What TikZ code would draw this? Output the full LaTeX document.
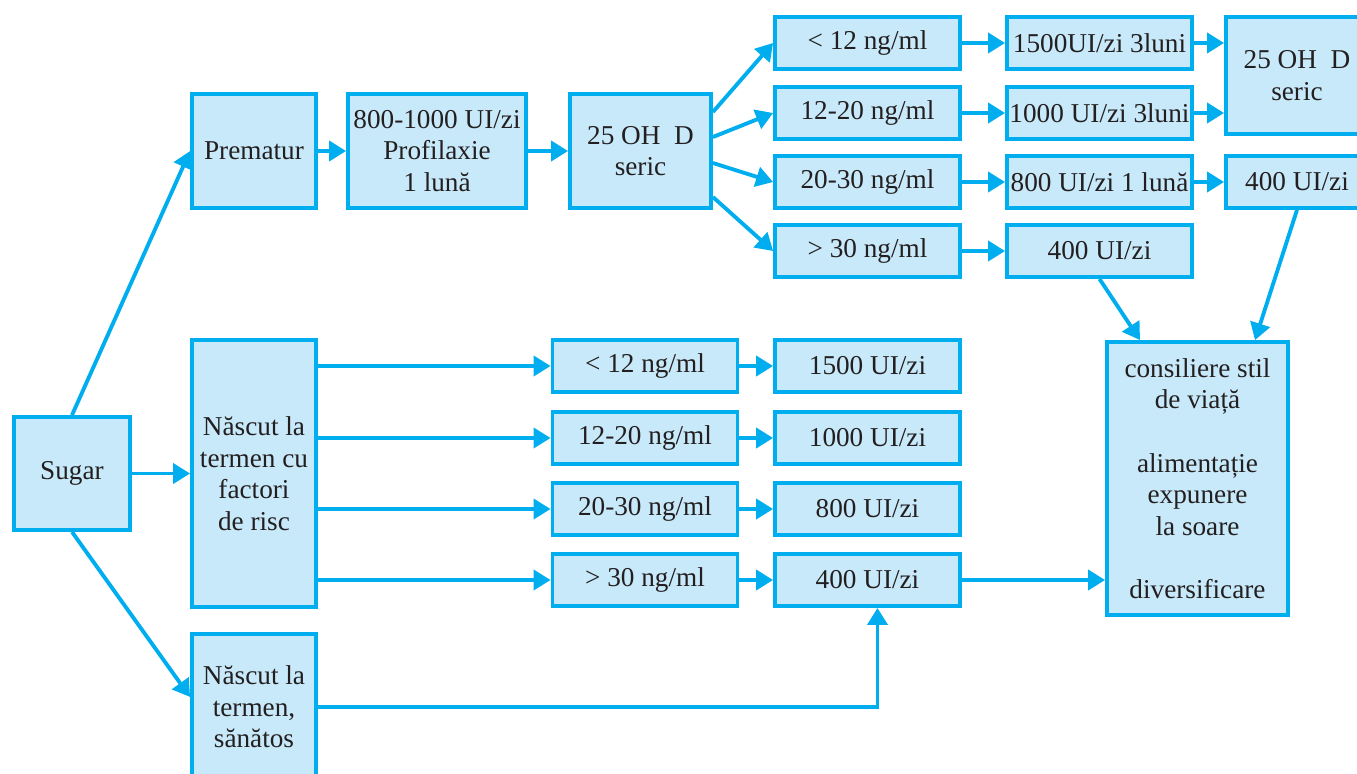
\documentclass[tikz,border=0pt]{standalone}
\usepackage{fontspec}
\setmainfont{Liberation Serif}
\usetikzlibrary{arrows.meta}
\definecolor{vcyan}{HTML}{00AEEF}
\definecolor{vfill}{HTML}{C8E9F9}
\definecolor{vtext}{HTML}{231F20}
\tikzset{
    box/.style={draw=vcyan, fill=vfill, line width=2.2pt, align=center, inner sep=1pt,
        text=vtext, font=\fontsize{15.5}{18}\selectfont},
    lvl/.style={box, minimum width=3.7cm, minimum height=1.04cm},
    arr/.style={vcyan, line width=2.2pt, -{Triangle[length=0.34cm,width=0.4cm]}},
}
\begin{document}
\begin{tikzpicture}[x=0.02cm,y=-0.02cm]
    \useasboundingbox (0,0) rectangle (1357,774);
    % Left column
    \node[box, minimum width=2.32cm, minimum height=2.26cm] (sugar) at (72,473.5) {Sugar};
    \node[box, minimum width=2.48cm, minimum height=2.28cm] (prem) at (254,151) {Prematur};
    \node[box, minimum width=2.48cm, minimum height=5.34cm] (risk) at (254,473.5) {Născut la\\termen cu\\factori\\de risc};
    \node[box, minimum width=2.48cm, minimum height=2.92cm] (healthy) at (254,707) {Născut la\\termen,\\sănătos};

    % Premature branch
    \node[box, minimum width=3.56cm, minimum height=2.28cm] (prof) at (437,151) {800-1000 UI/zi\\Profilaxie\\1 lună};
    \node[box, minimum width=2.82cm, minimum height=2.28cm] (ohA) at (640.5,151) {25 OH\ \ D\\seric};
    \node[lvl] (uA1) at (867.5,43) {< 12 ng/ml};
    \node[lvl] (uA2) at (867.5,113) {12-20 ng/ml};
    \node[lvl] (uA3) at (867.5,182) {20-30 ng/ml};
    \node[lvl] (uA4) at (867.5,251) {> 30 ng/ml};
    \node[lvl] (dA1) at (1099.5,43) {1500UI/zi 3luni};
    \node[lvl] (dA2) at (1099.5,113) {1000 UI/zi 3luni};
    \node[lvl] (dA3) at (1099.5,182) {800 UI/zi 1 lună};
    \node[lvl] (dA4) at (1099.5,251) {400 UI/zi};
    \node[box, minimum width=2.84cm, minimum height=2.34cm] (ohB) at (1297,75.5) {25 OH\ \ D\\seric};
    \node[box, minimum width=2.84cm, minimum height=1.04cm] (dB3) at (1297,182) {400 UI/zi};

    % Risk branch
    \node[lvl] (uB1) at (645,366) {< 12 ng/ml};
    \node[lvl] (uB2) at (645,438) {12-20 ng/ml};
    \node[lvl] (uB3) at (645,509) {20-30 ng/ml};
    \node[lvl] (uB4) at (645,580) {> 30 ng/ml};
    \node[lvl] (dB1) at (867.5,366) {1500 UI/zi};
    \node[lvl] (dB2) at (867.5,438) {1000 UI/zi};
    \node[lvl] (dB3b) at (867.5,509) {800 UI/zi};
    \node[lvl] (dB4) at (867.5,580) {400 UI/zi};

    \node[box, minimum width=3.62cm, minimum height=5.46cm] (cons) at (1197.5,478.5)
        {consiliere stil\\de viață\\[18pt]alimentație\\expunere\\la soare\\[18pt]diversificare};

    % Arrows
    \draw[arr] (sugar.north) -- (prem.west);
    \draw[arr] (sugar.east) -- (risk.west);
    \draw[arr] (sugar.south) -- ([yshift=0.2cm]healthy.west);
    \draw[arr] (prem) -- (prof);
    \draw[arr] (prof) -- (ohA);
    \draw[arr] ([yshift=0.78cm]ohA.east) -- (uA1.west);
    \draw[arr] ([yshift=0.28cm]ohA.east) -- (uA2.west);
    \draw[arr] ([yshift=-0.24cm]ohA.east) -- (uA3.west);
    \draw[arr] ([yshift=-0.92cm]ohA.east) -- (uA4.west);
    \foreach \i in {1,...,4} {
        \draw[arr] (uA\i) -- (dA\i);
        \draw[arr] (risk.east |- uB\i.west) -- (uB\i.west);
    }
    \draw[arr] (uB1) -- (dB1);
    \draw[arr] (uB2) -- (dB2);
    \draw[arr] (uB3) -- (dB3b);
    \draw[arr] (uB4) -- (dB4);
    \draw[arr] (dA1.east) -- (dA1.east -| ohB.west);
    \draw[arr] (dA2.east) -- (dA2.east -| ohB.west);
    \draw[arr] (dA3) -- (dB3);
    \draw[arr] (dA4.south) -- ([xshift=-1.15cm]cons.north);
    \draw[arr] (dB3.south) -- ([xshift=1.15cm]cons.north);
    \draw[arr] (dB4.east) -- (dB4.east -| cons.west);
    \draw[arr] (healthy.east) -| ([xshift=0.2cm]dB4.south);
\end{tikzpicture}
\end{document}
